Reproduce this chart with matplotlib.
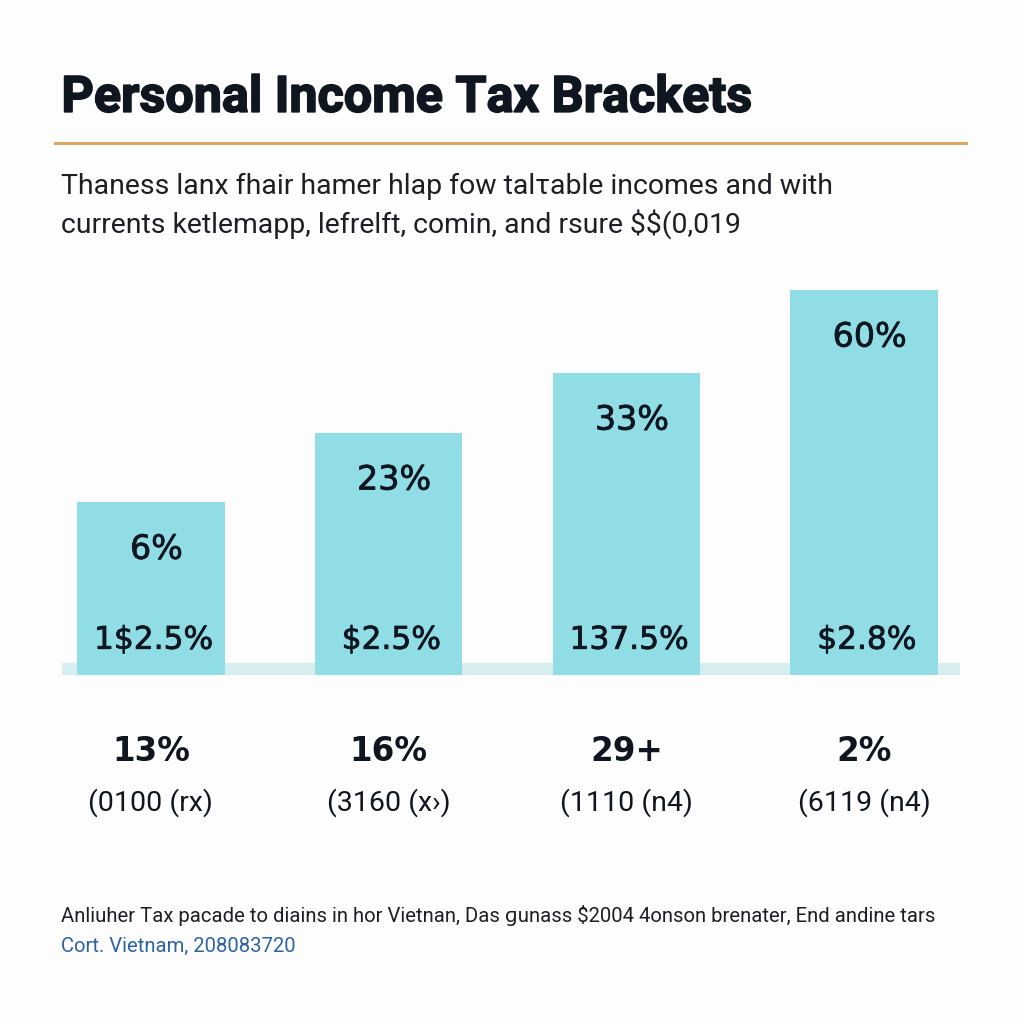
import matplotlib.pyplot as plt
import matplotlib.patheffects as pe
from matplotlib.lines import Line2D

# chart data
top_labels = ["6%", "23%", "33%", "60%"]
inner_labels = ["1$2.5%", "$2.5%", "137.5%", "$2.8%"]
rate_labels = ["13%", "16%", "29+", "2%"]
range_labels = ["(0100 (rx)", "(3160 (x\u203a)", "(1110 (n4)", "(6119 (n4)"]
bar_heights = [42.7, 59.8, 74.6, 95.1]

title = "Personal Income Tax Brackets"
subtitle = ("Thaness lanx fhair hamer hlap fow talτable incomes and with\n"
            "currents ketlemapp, lefrelft, comin, and rsure $$(0,019")
footer = ("Anliuher Tax pacade to diains in hor Vietnan, Das \u0261unass $2004 4onson "
          "brenater, End andine tars")
source = "Cort. Vietnam, 208083720"

BAR = "#90dde6"
BAND = "#d6eef0"
INK = "#0f1620"

plt.rcParams['text.parse_math'] = False
plt.rcParams['font.family'] = ['Roboto', 'DejaVu Sans']

fig = plt.figure(figsize=(10.24, 10.24), dpi=100, facecolor="#fdfdfd")

# title + rule + subtitle
fig.text(0.06, 0.904, title, fontsize=36.2, fontweight="bold", color=INK,
         va="center", ha="left",
         path_effects=[pe.withStroke(linewidth=1.2, foreground=INK)])
fig.add_artist(Line2D([0.054, 0.943], [0.860, 0.860], color="#dba862", lw=2.2,
                      transform=fig.transFigure))
fig.text(0.06, 0.831, subtitle, fontsize=20.4, color="#1c1f24", va="top",
         ha="left", linespacing=1.4)

# bars
ax = fig.add_axes([62 / 1024, 1 - 675 / 1024, 898 / 1024, 405 / 1024])
ax.set_facecolor("none")
x = range(len(bar_heights))
ax.axhspan(0, 3.0, color=BAND, zorder=1)
ax.bar(x, bar_heights, width=0.62, color=BAR, zorder=2)
ax.set_xlim(-0.374, 3.403)
ax.set_ylim(0, 100)
ax.axis("off")

medium = [pe.withStroke(linewidth=0.55, foreground=INK)]
for i, h in enumerate(bar_heights):
    ax.annotate(top_labels[i], (i, h), xytext=(4, -34), textcoords="offset points",
                ha="center", va="center", fontsize=24, color=INK,
                family=["DejaVu Sans"], path_effects=medium)
    ax.annotate(inner_labels[i], (i, 0), xytext=(2, 25), textcoords="offset points",
                ha="center", va="center", fontsize=22.5, color=INK,
                family=["DejaVu Sans"], path_effects=medium)
    ax.annotate(rate_labels[i], (i, 0), xytext=(0, -55), textcoords="offset points",
                ha="center", va="center", fontsize=23.5, fontweight="bold",
                color=INK, family=["DejaVu Sans"], annotation_clip=False)
    ax.annotate(range_labels[i], (i, 0), xytext=(0, -92), textcoords="offset points",
                ha="center", va="center", fontsize=20.5, color=INK,
                annotation_clip=False)

# footer
fig.text(0.06, 1 - 915 / 1024, footer, fontsize=14.6, color="#1c1f24",
         va="center", ha="left")
fig.text(0.06, 1 - 946 / 1024, source, fontsize=14.6, color="#2d63a3",
         va="center", ha="left")

fig.savefig("out.png", dpi=100, facecolor=fig.get_facecolor())
